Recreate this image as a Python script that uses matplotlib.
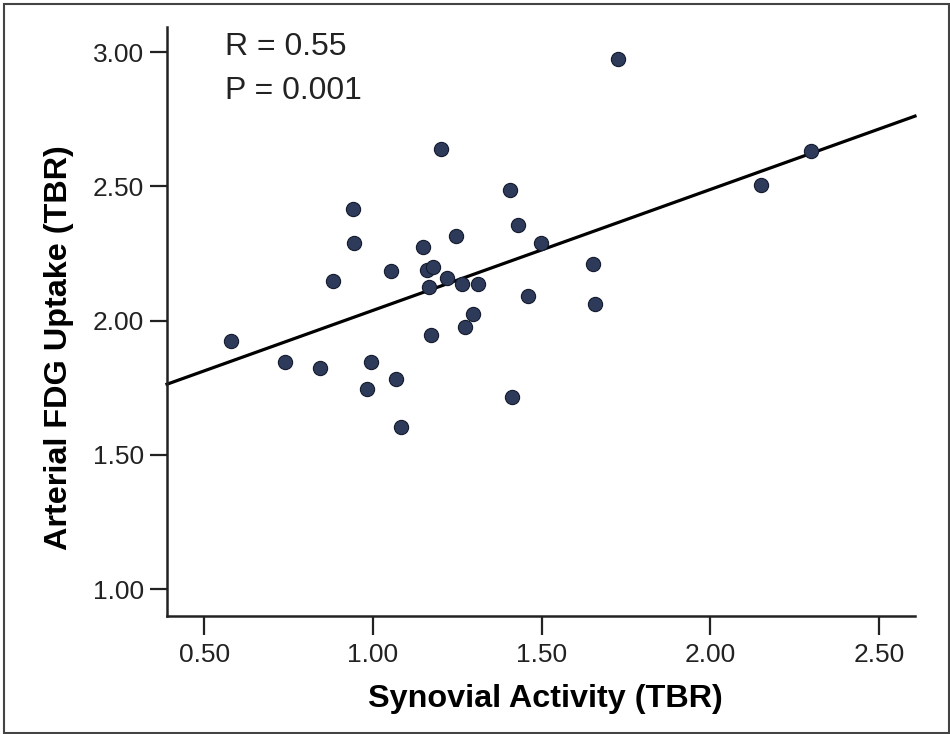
import numpy as np
import matplotlib
matplotlib.use("Agg")
import matplotlib.pyplot as plt
from matplotlib.patches import Rectangle

# synovial activity (x) vs arterial FDG uptake (y), both TBR
synovial = [0.579, 0.741, 0.842, 0.881, 0.942, 0.944, 0.984, 0.996, 1.053, 1.069,
            1.085, 1.149, 1.160, 1.178, 1.166, 1.171, 1.202, 1.220, 1.248, 1.265,
            1.272, 1.298, 1.311, 1.407, 1.413, 1.429, 1.459, 1.498, 1.653, 1.659,
            1.727, 2.150, 2.299]
arterial = [1.926, 1.847, 1.824, 2.146, 2.415, 2.289, 1.746, 1.848, 2.184, 1.784,
            1.603, 2.275, 2.187, 2.201, 2.126, 1.946, 2.640, 2.158, 2.315, 2.137,
            1.977, 2.026, 2.136, 2.486, 1.714, 2.358, 2.093, 2.291, 2.213, 2.063,
            2.975, 2.506, 2.632]

x_ticks = [0.50, 1.00, 1.50, 2.00, 2.50]
y_ticks = [1.00, 1.50, 2.00, 2.50, 3.00]
stats_text = ["R = 0.55", "P = 0.001"]

FONT = "Liberation Sans"
plt.rcParams["font.family"] = [FONT, "DejaVu Sans"]

fig = plt.figure(figsize=(9.5, 7.34), dpi=100)
ax = fig.add_axes([167 / 950, 1 - 616 / 734, (915 - 167) / 950, (616 - 27) / 734])

xlim = (0.39, 2.607)
ax.set_xlim(*xlim)
ax.set_ylim(0.90, 3.094)

x = np.asarray(synovial)
y = np.asarray(arterial)
slope, icpt = np.polyfit(x, y, 1)
xx = np.array(xlim)
ax.plot(xx, icpt + slope * xx, color="black", lw=2.3, zorder=2, clip_on=False)

ax.scatter(x, y, s=105, color="#2d3a5a", edgecolors="#141b2e", linewidths=0.8, zorder=3)

for s in ("top", "right"):
    ax.spines[s].set_visible(False)
for s in ("left", "bottom"):
    ax.spines[s].set_linewidth(1.8)
    ax.spines[s].set_color("#222222")

ax.set_xticks(x_ticks)
ax.set_xticklabels([f"{v:.2f}" for v in x_ticks])
ax.set_yticks(y_ticks)
ax.set_yticklabels([f"{v:.2f}" for v in y_ticks])
ax.tick_params(axis="x", length=13.5, width=1.6, color="#222222", pad=6,
               labelsize=19, labelcolor="#222222")
ax.tick_params(axis="y", length=12.5, width=1.6, color="#222222", pad=4,
               labelsize=19, labelcolor="#222222")

ax.set_xlabel("Synovial Activity (TBR)", fontsize=23.3, fontweight="bold", va="baseline")
ax.xaxis.set_label_coords((545 - 167) / 748, (616 - 707) / 589)
ax.set_ylabel("Arterial FDG Uptake (TBR)", fontsize=23.3, fontweight="bold", va="center")
ax.yaxis.set_label_coords((59.5 - 167) / 748, (616 - 348) / 589)

for i, t in enumerate(stats_text):
    fig.text(225 / 950, 1 - (55 + 44 * i) / 734, t, fontsize=23, color="#222222",
             ha="left", va="baseline")

# outer frame round the whole figure
fig.patches.append(Rectangle((4 / 950, 1 - 733 / 734), 945 / 950, 729.5 / 734,
                             transform=fig.transFigure, fill=False,
                             edgecolor="#444444", lw=1.5))

fig.savefig("out.png", dpi=100)
